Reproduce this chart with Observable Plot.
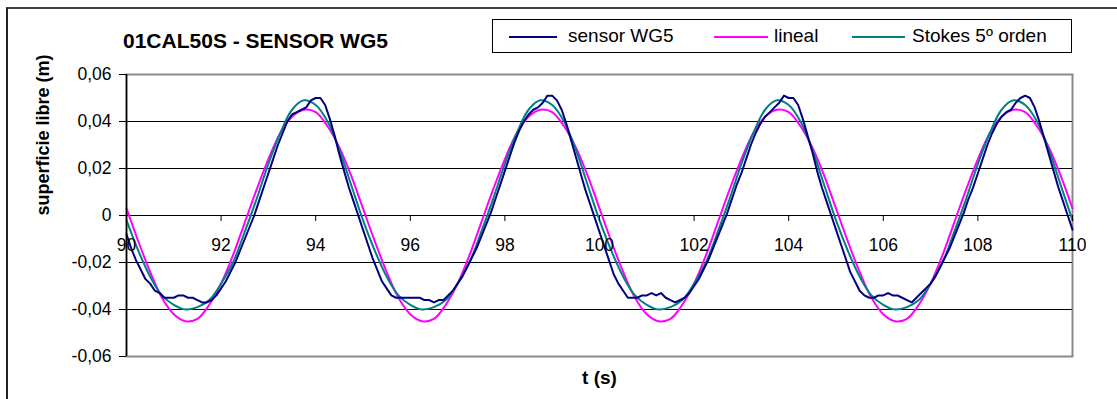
<!DOCTYPE html>
<html>
<head>
<meta charset="utf-8">
<script src="https://cdn.jsdelivr.net/npm/d3@7"></script>
<script src="https://cdn.jsdelivr.net/npm/@observablehq/plot@0.6"></script>
<style>
  html, body { margin: 0; padding: 0; background: white; }
  #wrap { position: relative; width: 1117px; height: 399px; overflow: hidden; font-family: "Liberation Sans", Arial, sans-serif; }
  #border { position: absolute; left: 6px; top: 7px; width: 1300px; height: 600px; border-left: 2px solid #222; border-top: 2px solid #444; pointer-events: none; }
  #title { position: absolute; left: 123px; top: 29px; font-weight: bold; font-size: 21px; color: black; white-space: nowrap; }
  #legend { position: absolute; left: 492px; top: 19px; width: 580px; height: 34px; border: 1px solid #000; background: white; box-sizing: border-box; }
  .lg-line { position: absolute; top: 16px; height: 2px; }
  .lg-text { position: absolute; top: 5px; font-size: 19px; white-space: nowrap; color: black; }
</style>
</head>
<body>
<div id="wrap">
  <div id="chart"></div>
  <div id="title"></div>
  <div id="legend"></div>
  <div id="border"></div>
</div>
<script>
// ---- data ----
const titleText = "01CAL50S - SENSOR WG5";
const seriesNames = ["sensor WG5", "lineal", "Stokes 5º orden"];
const seriesColors = ["#000080", "#FF00FF", "#008080"];
const xLabel = "t (s)";
const yLabel = "superficie libre (m)";
const xTicks = [90, 92, 94, 96, 98, 100, 102, 104, 106, 108, 110];
const yTicks = [-0.06, -0.04, -0.02, 0, 0.02, 0.04, 0.06];

// sensor WG5, sampled every 0.1 s from t = 90
const sensorStart = 90, sensorStep = 0.1;
const sensor = [
  -0.008, -0.014, -0.019, -0.023, -0.027, -0.029, -0.032, -0.033, -0.035, -0.035,
  -0.035, -0.034, -0.034, -0.035, -0.035, -0.036, -0.037, -0.037, -0.036, -0.034,
  -0.031, -0.028, -0.024, -0.020, -0.015, -0.010, -0.005, 0.000, 0.006, 0.012,
  0.018, 0.024, 0.030, 0.035, 0.040, 0.043, 0.044, 0.045, 0.046, 0.049,
  0.050, 0.050, 0.047, 0.041, 0.034, 0.026, 0.019, 0.012, 0.006, 0.000,
  -0.006, -0.012, -0.018, -0.023, -0.028, -0.031, -0.034, -0.035, -0.035, -0.035,
  -0.035, -0.035, -0.035, -0.036, -0.036, -0.037, -0.036, -0.036, -0.034, -0.032,
  -0.029, -0.026, -0.022, -0.018, -0.014, -0.009, -0.004, 0.001, 0.007, 0.013,
  0.019, 0.025, 0.031, 0.036, 0.040, 0.043, 0.045, 0.046, 0.048, 0.051,
  0.051, 0.049, 0.045, 0.039, 0.032, 0.025, 0.018, 0.011, 0.005, -0.001,
  -0.007, -0.013, -0.019, -0.025, -0.029, -0.032, -0.035, -0.035, -0.035, -0.034,
  -0.034, -0.033, -0.034, -0.033, -0.035, -0.036, -0.037, -0.036, -0.035, -0.033,
  -0.030, -0.027, -0.023, -0.019, -0.014, -0.009, -0.004, 0.001, 0.007, 0.013,
  0.018, 0.024, 0.030, 0.035, 0.039, 0.042, 0.044, 0.046, 0.048, 0.051,
  0.050, 0.050, 0.047, 0.041, 0.034, 0.027, 0.019, 0.012, 0.006, 0.000,
  -0.006, -0.012, -0.018, -0.024, -0.028, -0.032, -0.034, -0.035, -0.035, -0.034,
  -0.034, -0.033, -0.034, -0.034, -0.035, -0.036, -0.037, -0.035, -0.033, -0.031,
  -0.029, -0.026, -0.022, -0.018, -0.014, -0.009, -0.004, 0.001, 0.007, 0.012,
  0.018, 0.024, 0.030, 0.035, 0.039, 0.042, 0.044, 0.045, 0.048, 0.050,
  0.051, 0.050, 0.046, 0.040, 0.033, 0.026, 0.019, 0.012, 0.006, 0.000,
  -0.006
];

// lineal and Stokes 5º orden, sampled every 0.25 s from t = 90
const theoryStart = 90, theoryStep = 0.25;
const lineal = [
  0.003, -0.011, -0.024, -0.035, -0.042, -0.045, -0.044, -0.038, -0.029, -0.017,
  -0.003, 0.011, 0.024, 0.035, 0.042, 0.045, 0.044, 0.038, 0.029, 0.017,
  0.003, -0.011, -0.024, -0.035, -0.042, -0.045, -0.044, -0.038, -0.029, -0.017,
  -0.003, 0.011, 0.024, 0.035, 0.042, 0.045, 0.044, 0.038, 0.029, 0.017,
  0.003, -0.011, -0.024, -0.035, -0.042, -0.045, -0.044, -0.038, -0.029, -0.017,
  -0.003, 0.011, 0.024, 0.035, 0.042, 0.045, 0.044, 0.038, 0.029, 0.017,
  0.003, -0.011, -0.024, -0.035, -0.042, -0.045, -0.044, -0.038, -0.029, -0.017,
  -0.003, 0.011, 0.024, 0.035, 0.042, 0.045, 0.044, 0.038, 0.029, 0.017,
  0.003
];
const stokes = [
  -0.002, -0.015, -0.026, -0.034, -0.038, -0.040, -0.039, -0.036, -0.029, -0.020,
  -0.007, 0.007, 0.022, 0.035, 0.045, 0.049, 0.047, 0.040, 0.028, 0.013,
  -0.002, -0.015, -0.026, -0.034, -0.038, -0.040, -0.039, -0.036, -0.029, -0.020,
  -0.007, 0.007, 0.022, 0.035, 0.045, 0.049, 0.047, 0.040, 0.028, 0.013,
  -0.002, -0.015, -0.026, -0.034, -0.038, -0.040, -0.039, -0.036, -0.029, -0.020,
  -0.007, 0.007, 0.022, 0.035, 0.045, 0.049, 0.047, 0.040, 0.028, 0.013,
  -0.002, -0.015, -0.026, -0.034, -0.038, -0.040, -0.039, -0.036, -0.029, -0.020,
  -0.007, 0.007, 0.022, 0.035, 0.045, 0.049, 0.047, 0.040, 0.028, 0.013,
  -0.002
];

// ---- build tables ----
const sensorData = sensor.map((v, i) => ({t: sensorStart + i * sensorStep, v}));
const linealData = lineal.map((v, i) => ({t: theoryStart + i * theoryStep, v}));
const stokesData = stokes.map((v, i) => ({t: theoryStart + i * theoryStep, v}));

const fmt = d => d === 0 ? "0" : d.toFixed(2).replace(".", ",");

const W = 1117, H = 399;
const mL = 126, mR = 45, mT = 74, mB = 43;
const plotH = H - mT - mB;

const chart = Plot.plot({
  width: W, height: H,
  marginLeft: mL, marginRight: mR, marginTop: mT, marginBottom: mB,
  x: {domain: [xTicks[0], xTicks[xTicks.length - 1]]},
  y: {domain: [yTicks[0], yTicks[yTicks.length - 1]]},
  style: {fontFamily: "'Liberation Sans', Arial, sans-serif", fontSize: "17px", background: "white", color: "black", overflow: "visible"},
  marks: [
    Plot.frame({stroke: "#8a8a8a", strokeWidth: 2}),
    Plot.ruleY(yTicks.slice(1, -1), {stroke: "black", strokeWidth: 1}),
    Plot.line(linealData, {x: "t", y: "v", stroke: seriesColors[1], strokeWidth: 2, curve: "catmull-rom"}),
    Plot.line(stokesData, {x: "t", y: "v", stroke: seriesColors[2], strokeWidth: 2, curve: "catmull-rom"}),
    Plot.line(sensorData, {x: "t", y: "v", stroke: seriesColors[0], strokeWidth: 2, curve: "linear"}),
    Plot.ruleX([xTicks[0]], {stroke: "black", strokeWidth: 1.5}),
    Plot.axisY({ticks: yTicks, tickFormat: fmt, tickSize: 7, tickPadding: 8, label: null, fontSize: 17.5}),
    Plot.axisX({ticks: xTicks, tickFormat: d => String(d), tickSize: 6, tickPadding: 17, dy: -plotH / 2, label: null, fontSize: 17.5}),
    Plot.text([xLabel], {frameAnchor: "bottom", dy: 27, fontWeight: "bold", fontSize: 19}),
    Plot.text([yLabel], {frameAnchor: "left", rotate: -90, dx: -83, fontWeight: "bold", fontSize: 18})
  ]
});
document.getElementById("chart").appendChild(chart);

document.getElementById("title").textContent = titleText;

// legend
const legend = document.getElementById("legend");
const legendPos = [[16, 64, 75], [221, 275, 281], [359, 412, 419]];
seriesNames.forEach((name, i) => {
  const [l0, l1, tx] = legendPos[i];
  const line = document.createElement("div");
  line.className = "lg-line";
  line.style.left = l0 + "px";
  line.style.width = (l1 - l0) + "px";
  line.style.background = seriesColors[i];
  legend.appendChild(line);
  const txt = document.createElement("div");
  txt.className = "lg-text";
  txt.style.left = tx + "px";
  txt.textContent = name;
  legend.appendChild(txt);
});
</script>
</body>
</html>
